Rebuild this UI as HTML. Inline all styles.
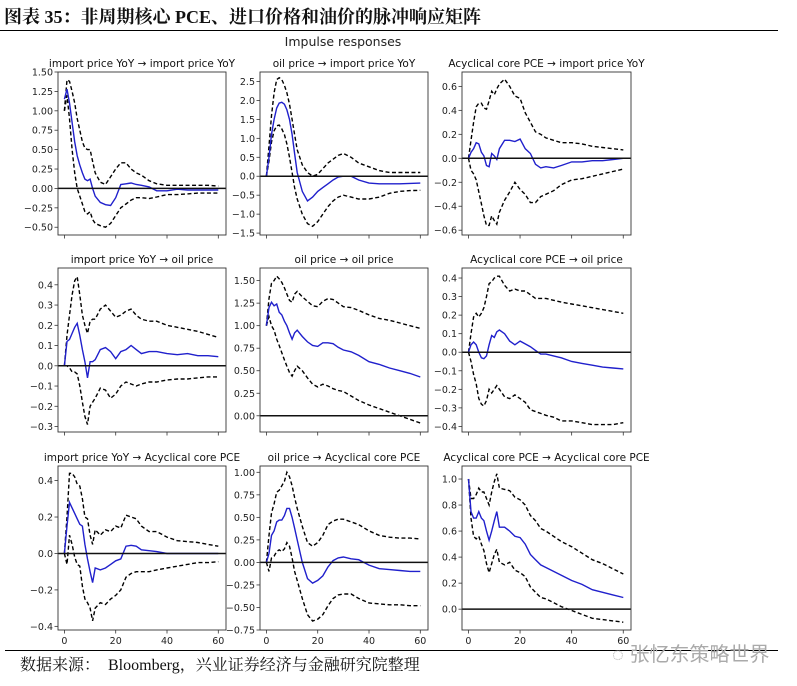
<!DOCTYPE html>
<html><head><meta charset="utf-8">
<style>
body{margin:0;background:#fff;}
#wrap{position:relative;width:797px;height:686px;overflow:hidden;background:#fff;}
#title{position:absolute;left:4px;top:3px;font:bold 18px "Liberation Serif","Noto Serif CJK SC",serif;color:#111;white-space:nowrap;}
#src{position:absolute;left:20px;top:652px;font:16px "Liberation Serif","Noto Serif CJK SC",serif;color:#111;white-space:nowrap;}
#wm{position:absolute;left:612px;top:638px;font:20px "Liberation Sans","Noto Sans CJK SC",sans-serif;color:#aaa;white-space:nowrap;}
svg text{font-family:"DejaVu Sans","Liberation Sans",sans-serif;}
</style></head><body>
<div id="wrap">
<div id="title">图表 35：非周期核心 PCE、进口价格和油价的脉冲响应矩阵</div>
<svg id="chart" width="797" height="686" style="position:absolute;left:0;top:0">
<line x1="0" y1="30.5" x2="778" y2="30.5" stroke="#000" stroke-width="1"/>
<line x1="5" y1="650.5" x2="778" y2="650.5" stroke="#000" stroke-width="1"/>
<text x="343" y="46" text-anchor="middle" font-size="12.5" fill="#222">Impulse responses</text>
</svg>
<div id="wm">◌ 张忆东策略世界</div>
<div id="src">数据来源：&nbsp;&nbsp;Bloomberg，兴业证券经济与金融研究院整理</div>
</div>
<script>
const steps=[0,1,2,3,4,5,6,7,8,9,10,11,12,14,16,18,20,22,24,26,28,30,33,36,40,44,48,52,56,60];
const xTicks=[0,20,40,60];
const p1Mean=[1.15,1.28,1.1,0.85,0.6,0.42,0.3,0.2,0.12,0.1,0.12,0.0,-0.1,-0.18,-0.21,-0.22,-0.12,0.05,0.06,0.07,0.05,0.04,0.02,-0.03,-0.03,-0.01,-0.02,-0.02,-0.02,-0.02];
const p1Upper=[1.0,1.4,1.38,1.25,1.1,0.9,0.75,0.6,0.52,0.5,0.5,0.35,0.2,0.08,0.05,0.15,0.25,0.33,0.33,0.25,0.2,0.17,0.1,0.06,0.04,0.04,0.04,0.04,0.04,0.03];
const p1Lower=[1.0,1.2,0.9,0.5,0.2,0.0,-0.1,-0.2,-0.3,-0.33,-0.3,-0.4,-0.45,-0.48,-0.5,-0.45,-0.35,-0.25,-0.2,-0.15,-0.12,-0.12,-0.13,-0.11,-0.08,-0.08,-0.07,-0.06,-0.06,-0.06];
const p1Ticks=[-0.5,-0.25,0,0.25,0.5,0.75,1.0,1.25,1.5];
const p2Mean=[0,0.5,1.1,1.5,1.8,1.93,1.95,1.9,1.75,1.5,1.1,0.6,0.1,-0.4,-0.65,-0.55,-0.4,-0.3,-0.2,-0.1,-0.02,0.0,0.0,-0.1,-0.18,-0.2,-0.2,-0.2,-0.19,-0.18];
const p2Upper=[0,0.8,1.6,2.2,2.55,2.6,2.55,2.4,2.2,1.9,1.5,1.1,0.7,0.3,0.1,0.0,0.05,0.2,0.35,0.45,0.55,0.6,0.5,0.35,0.25,0.15,0.1,0.1,0.1,0.1];
const p2Lower=[0,0.4,0.9,1.2,1.33,1.35,1.25,1.1,0.85,0.5,0.1,-0.3,-0.6,-1.0,-1.25,-1.32,-1.2,-1.0,-0.8,-0.65,-0.55,-0.5,-0.55,-0.6,-0.6,-0.55,-0.45,-0.4,-0.38,-0.37];
const p2Ticks=[-1.5,-1.0,-0.5,0,0.5,1.0,1.5,2.0,2.5];
const p3Mean=[0,0.05,0.08,0.13,0.12,0.05,0.02,-0.06,-0.07,0.04,0.02,-0.01,0.08,0.15,0.15,0.14,0.16,0.08,0.04,-0.05,-0.08,-0.07,-0.08,-0.06,-0.03,-0.03,-0.02,-0.02,-0.01,0.0];
const p3Upper=[0,0.15,0.3,0.43,0.46,0.46,0.42,0.41,0.48,0.56,0.53,0.58,0.62,0.66,0.6,0.52,0.5,0.38,0.3,0.22,0.2,0.17,0.15,0.13,0.13,0.12,0.1,0.09,0.08,0.07];
const p3Lower=[0,-0.1,-0.13,-0.18,-0.28,-0.38,-0.48,-0.56,-0.56,-0.48,-0.52,-0.55,-0.45,-0.35,-0.28,-0.2,-0.26,-0.3,-0.37,-0.37,-0.32,-0.3,-0.27,-0.22,-0.18,-0.17,-0.15,-0.13,-0.11,-0.09];
const p3Ticks=[-0.6,-0.4,-0.2,0,0.2,0.4,0.6];
const p4Mean=[0,0.12,0.13,0.16,0.19,0.21,0.15,0.08,0.02,-0.06,0.02,0.02,0.03,0.08,0.09,0.07,0.035,0.07,0.08,0.1,0.08,0.06,0.07,0.07,0.06,0.055,0.06,0.05,0.05,0.045];
const p4Upper=[0,0.15,0.25,0.35,0.42,0.44,0.35,0.25,0.2,0.16,0.22,0.23,0.23,0.28,0.3,0.27,0.24,0.25,0.27,0.28,0.25,0.23,0.22,0.22,0.2,0.19,0.18,0.17,0.155,0.14];
const p4Lower=[0,0.0,-0.01,-0.03,-0.03,-0.04,-0.1,-0.18,-0.25,-0.29,-0.2,-0.18,-0.16,-0.11,-0.12,-0.16,-0.14,-0.1,-0.08,-0.09,-0.1,-0.09,-0.08,-0.08,-0.07,-0.065,-0.065,-0.06,-0.055,-0.055];
const p4Ticks=[-0.3,-0.2,-0.1,0,0.1,0.2,0.3,0.4];
const p5Mean=[1.0,1.2,1.26,1.22,1.24,1.15,1.12,1.05,1.0,0.92,0.85,0.92,0.95,0.88,0.82,0.78,0.77,0.81,0.81,0.8,0.76,0.73,0.71,0.67,0.6,0.57,0.53,0.5,0.47,0.43];
const p5Upper=[1.0,1.3,1.47,1.5,1.55,1.52,1.48,1.42,1.35,1.28,1.26,1.35,1.38,1.32,1.27,1.22,1.21,1.27,1.3,1.29,1.25,1.21,1.2,1.17,1.12,1.08,1.06,1.03,1.0,0.97];
const p5Lower=[1.0,1.1,1.0,0.95,0.85,0.78,0.7,0.62,0.55,0.48,0.44,0.5,0.55,0.5,0.42,0.35,0.32,0.35,0.33,0.3,0.28,0.27,0.22,0.17,0.12,0.08,0.04,0.0,-0.04,-0.08];
const p5Ticks=[0,0.25,0.5,0.75,1.0,1.25,1.5];
const p6Mean=[0,0.04,0.055,0.04,0.0,-0.03,-0.035,-0.02,0.04,0.09,0.08,0.11,0.12,0.1,0.06,0.04,0.06,0.045,0.03,0.01,-0.01,-0.01,-0.02,-0.03,-0.05,-0.06,-0.07,-0.08,-0.085,-0.09];
const p6Upper=[0,0.1,0.19,0.21,0.19,0.21,0.24,0.3,0.37,0.38,0.4,0.41,0.41,0.36,0.33,0.34,0.33,0.33,0.31,0.29,0.29,0.29,0.28,0.27,0.26,0.25,0.24,0.23,0.22,0.21];
const p6Lower=[0,-0.05,-0.12,-0.17,-0.25,-0.28,-0.29,-0.26,-0.2,-0.22,-0.2,-0.18,-0.2,-0.24,-0.25,-0.23,-0.25,-0.27,-0.31,-0.32,-0.33,-0.34,-0.35,-0.37,-0.37,-0.38,-0.39,-0.39,-0.39,-0.38];
const p6Ticks=[-0.4,-0.3,-0.2,-0.1,0,0.1,0.2,0.3,0.4];
const p7Mean=[0,0.15,0.28,0.25,0.22,0.19,0.16,0.15,0.05,-0.03,-0.1,-0.16,-0.08,-0.09,-0.08,-0.06,-0.04,-0.03,0.04,0.045,0.04,0.02,0.015,0.01,0.0,0.0,0.0,0.0,0.0,0.0];
const p7Upper=[0,0.2,0.44,0.44,0.42,0.38,0.37,0.3,0.2,0.19,0.1,0.05,0.13,0.1,0.13,0.12,0.15,0.14,0.21,0.2,0.19,0.15,0.12,0.12,0.09,0.07,0.065,0.06,0.05,0.04];
const p7Lower=[0,-0.06,0.1,0.05,-0.02,-0.06,-0.07,-0.18,-0.25,-0.27,-0.3,-0.37,-0.3,-0.27,-0.28,-0.25,-0.23,-0.2,-0.13,-0.11,-0.1,-0.1,-0.1,-0.09,-0.08,-0.07,-0.06,-0.05,-0.05,-0.045];
const p7Ticks=[-0.4,-0.2,0,0.2,0.4];
const p8Mean=[0,0.1,0.3,0.35,0.45,0.47,0.47,0.52,0.6,0.6,0.5,0.38,0.25,0.0,-0.18,-0.23,-0.2,-0.15,-0.05,0.02,0.05,0.06,0.04,0.03,-0.03,-0.07,-0.08,-0.09,-0.1,-0.1];
const p8Upper=[0,0.3,0.55,0.65,0.78,0.8,0.85,0.9,1.0,0.95,0.85,0.72,0.6,0.4,0.22,0.18,0.22,0.3,0.42,0.46,0.48,0.48,0.45,0.42,0.35,0.3,0.28,0.27,0.27,0.26];
const p8Lower=[0,-0.1,0.05,0.07,0.12,0.14,0.12,0.15,0.22,0.18,0.05,-0.1,-0.2,-0.4,-0.58,-0.65,-0.63,-0.58,-0.48,-0.4,-0.36,-0.35,-0.35,-0.4,-0.45,-0.46,-0.47,-0.47,-0.48,-0.48];
const p8Ticks=[-0.75,-0.5,-0.25,0,0.25,0.5,0.75,1.0];
const p9Mean=[1.0,0.75,0.7,0.7,0.75,0.7,0.68,0.6,0.53,0.6,0.68,0.75,0.63,0.63,0.6,0.56,0.55,0.5,0.42,0.38,0.34,0.32,0.29,0.26,0.22,0.19,0.15,0.13,0.11,0.09];
const p9Upper=[1.0,0.85,0.85,0.88,0.93,0.9,0.9,0.85,0.8,0.9,0.98,1.04,0.93,0.92,0.91,0.86,0.84,0.8,0.72,0.68,0.62,0.6,0.56,0.52,0.48,0.43,0.38,0.35,0.31,0.27];
const p9Lower=[1.0,0.7,0.56,0.54,0.56,0.5,0.45,0.35,0.28,0.35,0.42,0.46,0.36,0.34,0.36,0.3,0.28,0.25,0.17,0.13,0.09,0.08,0.05,0.02,-0.01,-0.04,-0.07,-0.08,-0.09,-0.1];
const p9Ticks=[0,0.2,0.4,0.6,0.8,1.0];

const NS='http://www.w3.org/2000/svg';
const svg=document.getElementById('chart');
function mk(tag,attrs,parent){const e=document.createElementNS(NS,tag);for(const k in attrs)e.setAttribute(k,attrs[k]);(parent||svg).appendChild(e);return e;}
const cols=[[58,226],[260,428],[462,631]];
const rows=[[72,235],[268,432],[466,630]];
const panels=[
 {t:'import price YoY \u2192 import price YoY',m:p1Mean,u:p1Upper,l:p1Lower,ticks:p1Ticks,d:[-0.6,1.5],dec:2,r:0,c:0},
 {t:'oil price \u2192 import price YoY',m:p2Mean,u:p2Upper,l:p2Lower,ticks:p2Ticks,d:[-1.55,2.75],dec:1,r:0,c:1},
 {t:'Acyclical core PCE \u2192 import price YoY',m:p3Mean,u:p3Upper,l:p3Lower,ticks:p3Ticks,d:[-0.64,0.72],dec:1,r:0,c:2},
 {t:'import price YoY \u2192 oil price',m:p4Mean,u:p4Upper,l:p4Lower,ticks:p4Ticks,d:[-0.327,0.483],dec:1,r:1,c:0},
 {t:'oil price \u2192 oil price',m:p5Mean,u:p5Upper,l:p5Lower,ticks:p5Ticks,d:[-0.18,1.64],dec:2,r:1,c:1},
 {t:'Acyclical core PCE \u2192 oil price',m:p6Mean,u:p6Upper,l:p6Lower,ticks:p6Ticks,d:[-0.43,0.454],dec:1,r:1,c:2},
 {t:'import price YoY \u2192 Acyclical core PCE',m:p7Mean,u:p7Upper,l:p7Lower,ticks:p7Ticks,d:[-0.42,0.48],dec:1,r:2,c:0},
 {t:'oil price \u2192 Acyclical core PCE',m:p8Mean,u:p8Upper,l:p8Lower,ticks:p8Ticks,d:[-0.75,1.07],dec:2,r:2,c:1},
 {t:'Acyclical core PCE \u2192 Acyclical core PCE',m:p9Mean,u:p9Upper,l:p9Lower,ticks:p9Ticks,d:[-0.16,1.10],dec:1,r:2,c:2}
];
panels.forEach((p,i)=>{
 const [x0,x1]=cols[p.c],[y0,y1]=rows[p.r];
 const xs=v=>x0+(v+2.5)/(65.5)*(x1-x0);
 const ys=v=>y1-(v-p.d[0])/(p.d[1]-p.d[0])*(y1-y0);
 const g=mk('g',{});
 
 
 const tt=mk('text',{x:(x0+x1)/2,y:y0-5,'text-anchor':'middle','font-size':'10.5',fill:'#111'},g);
 tt.textContent=p.t;
 
 
 p.ticks.forEach(v=>{
  const y=ys(v);
  const tk=mk('line',{x1:x0-3.5,x2:x0,y1:y,y2:y,stroke:'#333','stroke-width':0.8},g);
  
  
  const lb=mk('text',{x:x0-5,y:y+3.5,'text-anchor':'end','font-size':'9.5',fill:'#222'},g);
  lb.textContent=(v<0?'\u2212':'')+Math.abs(v).toFixed(p.dec);
  
  
 });
 xTicks.forEach(v=>{
  const x=xs(v);
  const tk=mk('line',{x1:x,x2:x,y1:y1,y2:y1+3.5,stroke:'#333','stroke-width':0.8},g);
  
  
  if(p.r===2){
   const lb=mk('text',{x:x,y:y1+14,'text-anchor':'middle','font-size':'9.5',fill:'#222'},g);
   lb.textContent=v;
   
   
  }
 });
 const path=arr=>arr.map((v,k)=>(k?'L':'M')+xs(steps[k]).toFixed(1)+' '+ys(v).toFixed(1)).join(' ');
 const up=mk('path',{d:path(p.u),fill:'none',stroke:'#000','stroke-width':1.4,'stroke-dasharray':'4 2.5'},g);
 
 
 const lo=mk('path',{d:path(p.l),fill:'none',stroke:'#000','stroke-width':1.4,'stroke-dasharray':'4 2.5'},g);
 
 
 const mn=mk('path',{d:path(p.m),fill:'none',stroke:'#2020cc','stroke-width':1.4},g);
 
 
 const z=mk('line',{x1:x0,x2:x1,y1:ys(0),y2:ys(0),stroke:'#111','stroke-width':1.5},g);
 
 
 const fr=mk('rect',{x:x0,y:y0,width:x1-x0,height:y1-y0,fill:'none',stroke:'#333','stroke-width':0.9},g);
 
 
});
</script>
</body></html>
